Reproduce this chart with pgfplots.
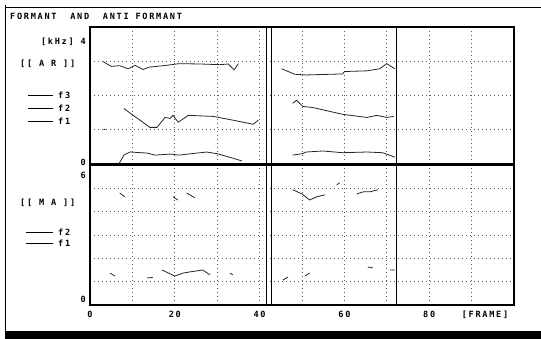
\documentclass[border=0pt]{standalone}
\usepackage{pgfplots}
\pgfplotsset{compat=1.18}
\usepackage{fontspec}
\newfontfamily\pf{DejaVu Sans Mono}[LetterSpace=20]
\newcommand{\pt}{\pf\bfseries\fontsize{8.6}{10}\selectfont}
\begin{document}
\begin{tikzpicture}
\path[use as bounding box] (0,0) rectangle (541bp,-339bp);
\draw[line width=0.8bp] (5bp,-5bp) -- (5bp,-331bp);
\draw[line width=0.8bp] (5bp,-7bp) -- (541bp,-7bp);
\fill[black] (5bp,-331bp) rectangle (541bp,-339bp);
\node[anchor=west,inner sep=0pt,font=\pt] at (10bp,-16bp) {FORMANT\ \ AND\ \ ANTI FORMANT};
% left labels top
\node[anchor=east,inner sep=0pt,font=\pt] at (86bp,-42bp) {[kHz] 4};
\node[anchor=west,inner sep=0pt,font=\pt] at (20bp,-64bp) {[[ A R ]]};
\node[anchor=east,inner sep=0pt,font=\pt] at (86bp,-162bp) {0};
\draw[line width=0.7bp] (28bp,-95bp) -- (53bp,-95bp);
\draw[line width=0.9bp] (28bp,-108bp) -- (53bp,-108bp);
\draw[line width=0.6bp] (28bp,-121bp) -- (53bp,-121bp);
\node[anchor=west,inner sep=0pt,font=\pt] at (58bp,-95bp) {f3};
\node[anchor=west,inner sep=0pt,font=\pt] at (58bp,-108bp) {f2};
\node[anchor=west,inner sep=0pt,font=\pt] at (58bp,-121bp) {f1};
% left labels bottom
\node[anchor=east,inner sep=0pt,font=\pt] at (86bp,-175bp) {6};
\node[anchor=west,inner sep=0pt,font=\pt] at (20bp,-203bp) {[[ M A ]]};
\node[anchor=east,inner sep=0pt,font=\pt] at (86bp,-299bp) {0};
\draw[line width=0.9bp] (26bp,-232bp) -- (53bp,-232bp);
\draw[line width=0.7bp] (26bp,-243bp) -- (53bp,-243bp);
\node[anchor=west,inner sep=0pt,font=\pt] at (58bp,-232bp) {f2};
\node[anchor=west,inner sep=0pt,font=\pt] at (58bp,-243bp) {f1};
\node[anchor=center,inner sep=0pt,font=\pt] at (485bp,-315bp) {[FRAME]};
\pgfplotsset{
  panel/.style={
    anchor=south west, scale only axis, width=424bp,
    xmin=0, xmax=100, ymin=0,
    grid=major,
    major grid style={black!65, line width=0.7bp, dash pattern=on 0.8bp off 3.2bp},
    tick style={draw=none},
    axis line style={line width=1.2bp},
    extra x ticks={41.7,42.8,72.3},
    extra x tick labels={},
    extra tick style={grid=major, major grid style={solid, black, line width=1bp}},
    unbounded coords=jump,
  },
  fm/.style={black!85, line width=0.8bp, mark=none},
}
\begin{axis}[panel, at={(90bp,-164bp)}, height=137bp, ymax=4,
  xtick={10,20,...,90}, xticklabels={}, ytick={1,2,3}, yticklabels={}]
\addplot[fm] coordinates {(3.1,2.99) (5,2.85) (7,2.87) (9,2.78) (10.6,2.88) (12.5,2.76) (14,2.83) (18,2.88) (21,2.93) (26,2.92) (30.6,2.9) (32.6,2.92) (34,2.75) (35,2.93)
 (35.5,nan) (45.2,2.78) (48.3,2.62) (51,2.6) (59.6,2.63) (60,2.7) (65.3,2.72) (68.3,2.78) (70,2.93) (71.9,2.78)};
\addplot[fm] coordinates {(3.2,1.0) (3.7,1.02) (3.8,nan) (8,1.62) (10.2,1.42) (11.8,1.28) (14.1,1.07) (15.8,1.07) (17.7,1.36) (18.9,1.33) (19.6,1.42) (20.8,1.22) (23.2,1.42) (29,1.39) (33.7,1.28) (38.5,1.16) (39.7,1.28)
 (40,nan) (47.8,1.77) (48.7,1.86) (50.2,1.68) (52.5,1.65) (59.6,1.45) (65.3,1.36) (67.6,1.42) (70,1.36) (71.6,1.39)};
\addplot[fm] coordinates {(6.8,0.0) (8,0.26) (9.4,0.35) (13.4,0.32) (15.3,0.26) (19,0.29) (21,0.26) (27.5,0.35) (30,0.3) (33.7,0.17) (35.8,0.09)
 (36,nan) (47.8,0.26) (50,0.3) (51,0.35) (54.9,0.38) (59.6,0.33) (65.3,0.35) (69,0.33) (71.9,0.2)};
\end{axis}
\begin{axis}[panel, at={(90bp,-305bp)}, height=140bp, ymax=6,
  xtick={0,10,...,90}, xticklabels={0,,20,,40,,60,,80,},
  xticklabel style={font=\pt, anchor=north, inner sep=0pt, yshift=-6bp},
  ytick={1,2,3,4,5}, yticklabels={}]
\addplot[fm] coordinates {(7,4.8) (8.2,4.64) (8.5,nan) (19.6,4.64) (20.7,4.5) (21,nan) (22.8,4.8) (24.7,4.6) (25,nan)
 (47.8,4.94) (50,4.76) (51.8,4.5) (53.5,4.64) (55.4,4.72) (56,nan) (58.2,5.15) (58.9,5.24) (59,nan) (62.9,4.76) (64.5,4.85) (66,4.85) (67.9,4.94)};
\addplot[fm] coordinates {(4.7,1.37) (5.9,1.24) (6,nan) (13.4,1.16) (14.8,1.18) (15,nan) (17,1.5) (20,1.24) (22,1.37) (23.6,1.42) (26.6,1.5) (28.3,1.29) (29,nan) (33,1.37) (33.7,1.29) (34,nan)
 (45.5,1.07) (46.7,1.2) (47,nan) (50.7,1.24) (51.8,1.37) (52,nan) (65.5,1.63) (66.7,1.59) (67,nan) (70.7,1.5) (71.9,1.5)};
\end{axis}
\end{tikzpicture}
\end{document}
